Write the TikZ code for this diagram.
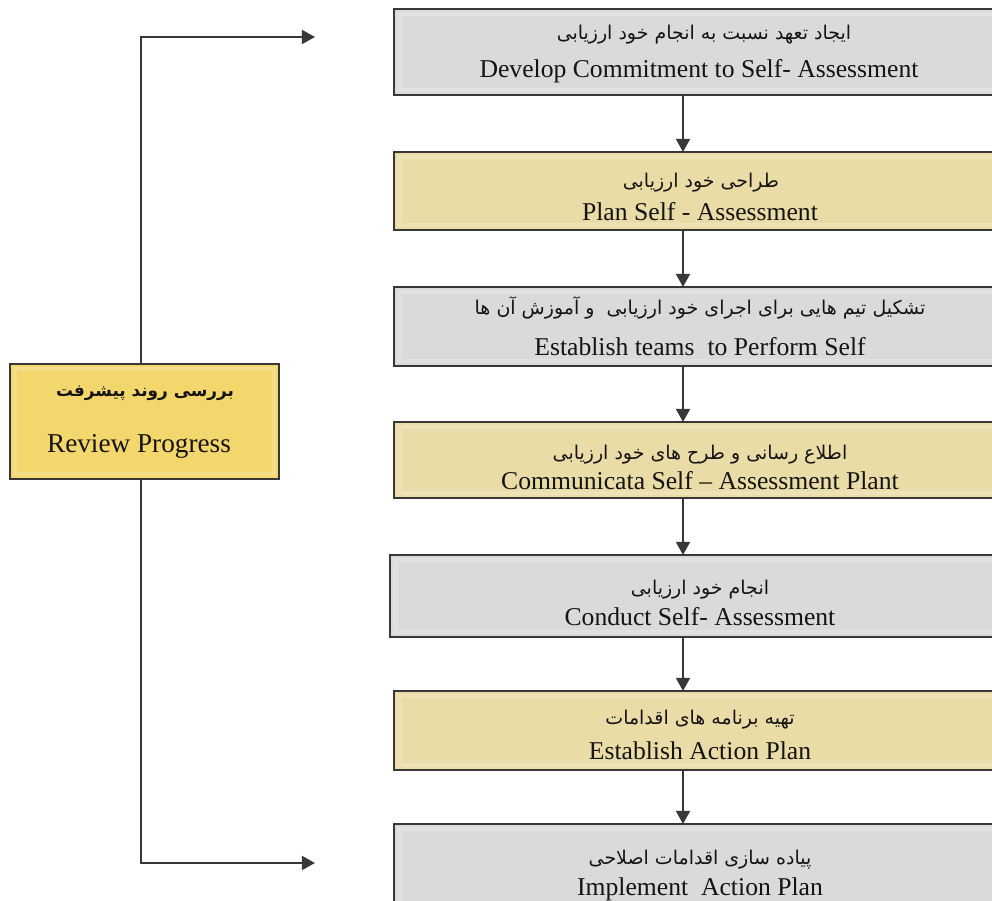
\documentclass[tikz,border=0pt]{standalone}
\usepackage{fontspec}
\setmainfont{Liberation Serif}
\newfontfamily\fa[Script=Arabic]{DejaVu Sans}
\TeXXeTstate=1
\usetikzlibrary{arrows.meta,calc}
\definecolor{grayfill}{HTML}{DADADA}
\definecolor{yelfill}{HTML}{EADCA6}
\definecolor{revfill}{HTML}{F3D66C}
\definecolor{edge}{HTML}{383838}
\begin{document}
\begin{tikzpicture}[x=0.02cm,y=-0.02cm,
 box/.style={draw=edge, line width=1.1pt, inner sep=0pt, outer sep=0pt, rectangle,
   path picture={\draw[white, opacity=0.2, line width=2.5pt]
     ($(path picture bounding box.south west)+(3pt,3pt)$) rectangle
     ($(path picture bounding box.north east)+(-3pt,-3pt)$);}},
 gbox/.style={box, fill=grayfill},
 ybox/.style={box, fill=yelfill},
 rbox/.style={box, fill=revfill},
 en/.style={anchor=base, font=\fontsize{14.6}{17}\selectfont, text=black!92, inner sep=0pt},
 fat/.style={anchor=base, font=\fontsize{10.8}{13}\selectfont\fa, text=black!92, inner sep=0pt},
 conn/.style={draw=edge, line width=1.1pt},
 arr/.style={conn, -{Triangle[length=7.5pt,width=8pt]}}
]
\useasboundingbox (0,0) rectangle (992,901);
\clip (0,0) rectangle (992,901);
\fill[white] (0,0) rectangle (992,901);

% boxes
\node[gbox, minimum width=12.24cm, minimum height=1.72cm] (b1) at (700,52) {};
\node[ybox, minimum width=12.24cm, minimum height=1.56cm] (b2) at (700,191) {};
\node[gbox, minimum width=12.24cm, minimum height=1.58cm] (b3) at (700,326.5) {};
\node[ybox, minimum width=12.24cm, minimum height=1.52cm] (b4) at (700,460) {};
\node[gbox, minimum width=12.40cm, minimum height=1.64cm] (b5) at (700,596) {};
\node[ybox, minimum width=12.24cm, minimum height=1.58cm] (b6) at (700,730.5) {};
\node[gbox, minimum width=12.24cm, minimum height=1.80cm] (b7) at (700,869) {};
\node[rbox, minimum width=5.38cm, minimum height=2.30cm] (rev) at (144.5,421.5) {};

% texts
\node[fat] (t1fa) at (704,40) {\beginR ایجاد تعهد نسبت به انجام خود ارزیابی\endR};
\node[en] (t1en) at (699,78) {Develop Commitment to Self- Assessment};
\node[fat] (t2fa) at (701,188) {\beginR طراحی خود ارزیابی\endR};
\node[en] (t2en) at (700,221) {Plan Self - Assessment};
\node[fat] (t3fa) at (700,315) {\beginR تشکیل تیم هایی برای اجرای خود ارزیابی\ \ و آموزش آن ها\endR};
\node[en] (t3en) at (700,356) {Establish teams\ \ to Perform Self};
\node[fat] (t4fa) at (700,460) {\beginR اطلاع رسانی و طرح های خود ارزیابی\endR};
\node[en] (t4en) at (700,490) {Communicata Self – Assessment Plant};
\node[fat] (t5fa) at (700,595) {\beginR انجام خود ارزیابی\endR};
\node[en] (t5en) at (700,626) {Conduct Self- Assessment};
\node[fat] (t6fa) at (700,725) {\beginR تهیه برنامه های اقدامات\endR};
\node[en] (t6en) at (700,760) {Establish Action Plan};
\node[fat] (t7fa) at (700,865) {\beginR پیاده سازی اقدامات اصلاحی\endR};
\node[en] (t7en) at (700,896) {Implement\ \ Action Plan};
\node[fat, font=\fontsize{9.6}{12}\selectfont\fa\bfseries] (rfa) at (145,397) {\beginR بررسی روند پیشرفت\endR};
\node[en, font=\fontsize{15.5}{18}\selectfont] (ren) at (139,453) {Review Progress};

% connectors
\coordinate (ax) at (683,0);
\draw[arr] (b1.south -| ax) -- (b2.north -| ax);
\draw[arr] (b2.south -| ax) -- (b3.north -| ax);
\draw[arr] (b3.south -| ax) -- (b4.north -| ax);
\draw[arr] (b4.south -| ax) -- (b5.north -| ax);
\draw[arr] (b5.south -| ax) -- (b6.north -| ax);
\draw[arr] (b6.south -| ax) -- (b7.north -| ax);

\coordinate (lx) at (141,0);
\coordinate (topend) at (315,37);
\coordinate (botend) at (315,863);
\draw[arr] (rev.north -| lx) |- (topend);
\draw[arr] (rev.south -| lx) |- (botend);
\end{tikzpicture}
\end{document}
